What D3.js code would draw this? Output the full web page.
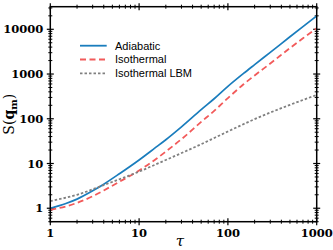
<!DOCTYPE html>
<html>
<head>
<meta charset="utf-8">
<script src="https://cdn.jsdelivr.net/npm/d3@7"></script>
<style>
  body { margin: 0; background: #fff; }
  svg { display: block; }
</style>
</head>
<body>
<div id="chart"></div>
<script>
// values
const tau = [1, 1.5, 2, 3, 4, 6, 10, 15, 20, 30, 50, 70, 100, 150, 200, 300, 500, 700, 1000];
const adiabatic = [1.0, 1.28, 1.6, 2.45, 3.45, 5.9, 12, 22, 34, 66, 160, 280, 530, 1030, 1620, 3050, 6800, 11500, 20000];
const isothermal = [0.92, 1.1, 1.32, 1.85, 2.5, 3.9, 7, 12, 18.5, 35, 85, 150, 290, 590, 930, 1720, 3800, 6300, 10500];
const lbmTau = [1, 2, 4, 10, 20, 50, 100, 200, 500, 1000];
const lbm = [1.45, 2.0, 3.3, 6.6, 12, 27, 52, 98, 205, 340];

const xTicks = [1, 10, 100, 1000];
const yTicks = [1, 10, 100, 1000, 10000];
const seriesNames = ["Adiabatic", "Isothermal", "Isothermal LBM"];

const W = 333, H = 250;
const margin = { top: 6.7, right: 16.3, bottom: 28.3, left: 50.3 };
const width = W - margin.left - margin.right,
  height = H - margin.top - margin.bottom;

const svg = d3.select("#chart").append("svg")
  .attr("width", W).attr("height", H);
const g = svg.append("g")
  .attr("transform", `translate(${margin.left}, ${margin.top})`);

const x = d3.scaleLog().domain([1, 1000]).range([0, width]);
const y = d3.scaleLog().domain([0.5, 32000]).range([height, 0]);

// minor ticks
const xMinor = [];
for (let d = 1; d < 1000; d *= 10) for (let k = 2; k <= 9; k++) xMinor.push(d * k);
const yMinor = [];
for (let d = 0.1; d < 100000; d *= 10) for (let k = 2; k <= 9; k++) {
  const v = d * k;
  if (v >= 0.5 && v <= 32000) yMinor.push(v);
}

const ticks = g.append("g").attr("stroke", "#000");
function tickMarks(vals, len, sw) {
  vals.forEach(v => {
    const px = x(v);
    if (px >= 0 && px <= width) {
      ticks.append("line").attr("x1", px).attr("x2", px).attr("y1", height - len).attr("y2", height + len).attr("stroke-width", sw);
      ticks.append("line").attr("x1", px).attr("x2", px).attr("y1", -len).attr("y2", len).attr("stroke-width", sw);
    }
  });
}
function yTickMarks(vals, len, sw) {
  vals.forEach(v => {
    const py = y(v);
    ticks.append("line").attr("y1", py).attr("y2", py).attr("x1", -len).attr("x2", len).attr("stroke-width", sw);
    ticks.append("line").attr("y1", py).attr("y2", py).attr("x1", width - len).attr("x2", width + len).attr("stroke-width", sw);
  });
}
tickMarks(xMinor, 2, 1);
tickMarks(xTicks, 3.5, 1.2);
yTickMarks(yMinor, 2, 1);
yTickMarks(yTicks, 3.5, 1.2);

// tick labels
g.append("g").selectAll("text").data(xTicks).join("text")
  .attr("x", d => x(d)).attr("y", height + 15.5)
  .attr("text-anchor", "middle")
  .style("font-family", "DejaVu Serif").style("font-weight", "bold").style("font-size", "11.5px")
  .text(d => d);
g.append("g").selectAll("text").data(yTicks).join("text")
  .attr("x", -7).attr("y", d => y(d)).attr("dy", "0.36em")
  .attr("text-anchor", "end")
  .style("font-family", "DejaVu Serif").style("font-weight", "bold").style("font-size", "11.5px")
  .text(d => d);

// lines
const line = d3.line().x(d => x(d[0])).y(d => y(d[1])).curve(d3.curveMonotoneX);
const colors = ["#1a7dbd", "#f25a5a", "#808080"];
const dashes = [null, "6,3.5", "2.5,2"];
const series = [
  d3.zip(tau, adiabatic),
  d3.zip(tau, isothermal),
  d3.zip(lbmTau, lbm)
];
g.append("clipPath").attr("id", "clip").append("rect")
  .attr("width", width).attr("height", height);
series.forEach((s, i) => {
  g.append("path").datum(s)
    .attr("clip-path", "url(#clip)")
    .attr("d", line)
    .attr("fill", "none")
    .attr("stroke", colors[i])
    .attr("stroke-width", i == 0 ? 1.7 : 1.8)
    .attr("stroke-dasharray", dashes[i]);
});

// frame
g.append("rect").attr("width", width).attr("height", height)
  .attr("fill", "none").attr("stroke", "#000").attr("stroke-width", 1.5);

// legend
const legend = g.append("g").attr("transform", `translate(${80 - margin.left}, ${45.7 - margin.top})`);
seriesNames.forEach((name, i) => {
  legend.append("line")
    .attr("x1", 0).attr("x2", 26.7).attr("y1", i * 13.8).attr("y2", i * 13.8)
    .attr("stroke", colors[i]).attr("stroke-width", 1.8)
    .attr("stroke-dasharray", dashes[i]);
  legend.append("text")
    .attr("x", 35).attr("y", i * 13.8).attr("dy", "0.35em")
    .style("font-family", "Liberation Sans").style("font-size", "11px")
    .text(name);
});

// axis labels
svg.append("text")
  .attr("x", 180).attr("y", 245.5)
  .attr("text-anchor", "middle")
  .style("font-family", "DejaVu Serif").style("font-style", "italic").style("font-size", "15px")
  .text("τ");
const yl = svg.append("text")
  .attr("transform", `translate(14, ${margin.top + height / 2}) rotate(-90)`)
  .attr("text-anchor", "middle")
  .style("font-family", "DejaVu Serif").style("font-size", "14px");
yl.append("tspan").text("S(");
yl.append("tspan").style("font-weight", "bold").text("q");
yl.append("tspan").style("font-weight", "bold").style("font-size", "10px").attr("dy", 3).text("m");
yl.append("tspan").attr("dy", -3).text(")");
</script>
</body>
</html>
